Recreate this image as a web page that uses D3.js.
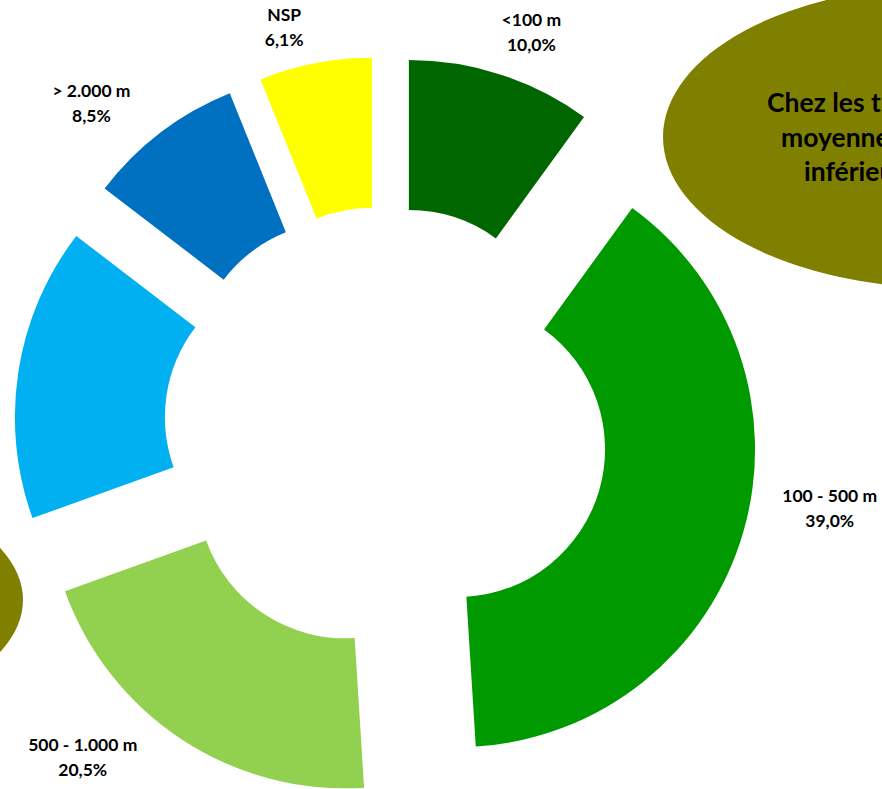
<!DOCTYPE html>
<html><head><meta charset="utf-8">
<script src="https://cdn.jsdelivr.net/npm/d3@7"></script>
<style>html,body{margin:0;padding:0;background:#fff;overflow:hidden}</style>
</head><body><svg id="chart" width="882" height="789"></svg>
<script>
// ---- data ----
const categories = ["<100 m", "100 - 500 m", "500 - 1.000 m", "1.000 - 2.000 m", "> 2.000 m", "NSP"];
const values = [10.0, 39.0, 20.5, 15.9, 8.5, 6.1];
const valueLabels = ["10,0%", "39,0%", "20,5%", "15,9%", "8,5%", "6,1%"];
const colors = ["#006600", "#009900", "#92D050", "#00B0F0", "#0070C0", "#FFFF00"];
const noteLines = ["Chez les très", "moyenne est", "inférieure"];

// ---- layout ----
const W = 882, H = 789;
const cx = 386, cy = 428.5, R = 298, r = 148, explode = 74;
const labelShiftDeg = [2.2, -5.9, 9.3, 0, -5, -3.3];
const labelRadius = [421, 451, 448, 440, 438, 413];
const font = "Lato, 'Open Sans', sans-serif";

const svg = d3.select("#chart");

// decorative olive ellipses (callouts)
svg.append("ellipse").attr("cx", 945).attr("cy", 137).attr("rx", 282).attr("ry", 151).attr("fill", "#808000");
svg.append("ellipse").attr("cx", -259).attr("cy", 600).attr("rx", 282).attr("ry", 132).attr("fill", "#808000");

const note = svg.append("g").attr("font-family", font).attr("font-weight", 700).attr("font-size", 26.5).attr("fill", "#000");
const noteX = [767, 781, 804];
const noteY = [112, 147, 181];
noteLines.forEach((t, i) => note.append("text").attr("x", noteX[i]).attr("y", noteY[i]).text(t));

// pie
const pie = d3.pie().sort(null).value(d => d).startAngle(0).endAngle(2 * Math.PI);
const arcs = pie(values);
const arc = d3.arc().innerRadius(r).outerRadius(R);

const g = svg.append("g").attr("transform", `translate(${cx},${cy})`);
g.selectAll("path").data(arcs).join("path")
  .attr("d", arc)
  .attr("fill", (d, i) => colors[i])
  .attr("transform", d => {
    const m = (d.startAngle + d.endAngle) / 2;
    return `translate(${explode * Math.sin(m)},${-explode * Math.cos(m)})`;
  });

// labels
const lg = svg.append("g").attr("font-family", font).attr("font-weight", 700).attr("font-size", 17.5)
  .attr("fill", "#000").attr("text-anchor", "middle");
arcs.forEach((d, i) => {
  const a = (d.startAngle + d.endAngle) / 2 + labelShiftDeg[i] * Math.PI / 180;
  const x = cx + labelRadius[i] * Math.sin(a);
  const y = cy - labelRadius[i] * Math.cos(a);
  if (x < 0 || x > W || y < 0 || y > H) return;
  lg.append("text").attr("x", x).attr("y", y - 7).text(categories[i]);
  lg.append("text").attr("x", x).attr("y", y + 18).text(valueLabels[i]);
});
</script>
</body></html>
